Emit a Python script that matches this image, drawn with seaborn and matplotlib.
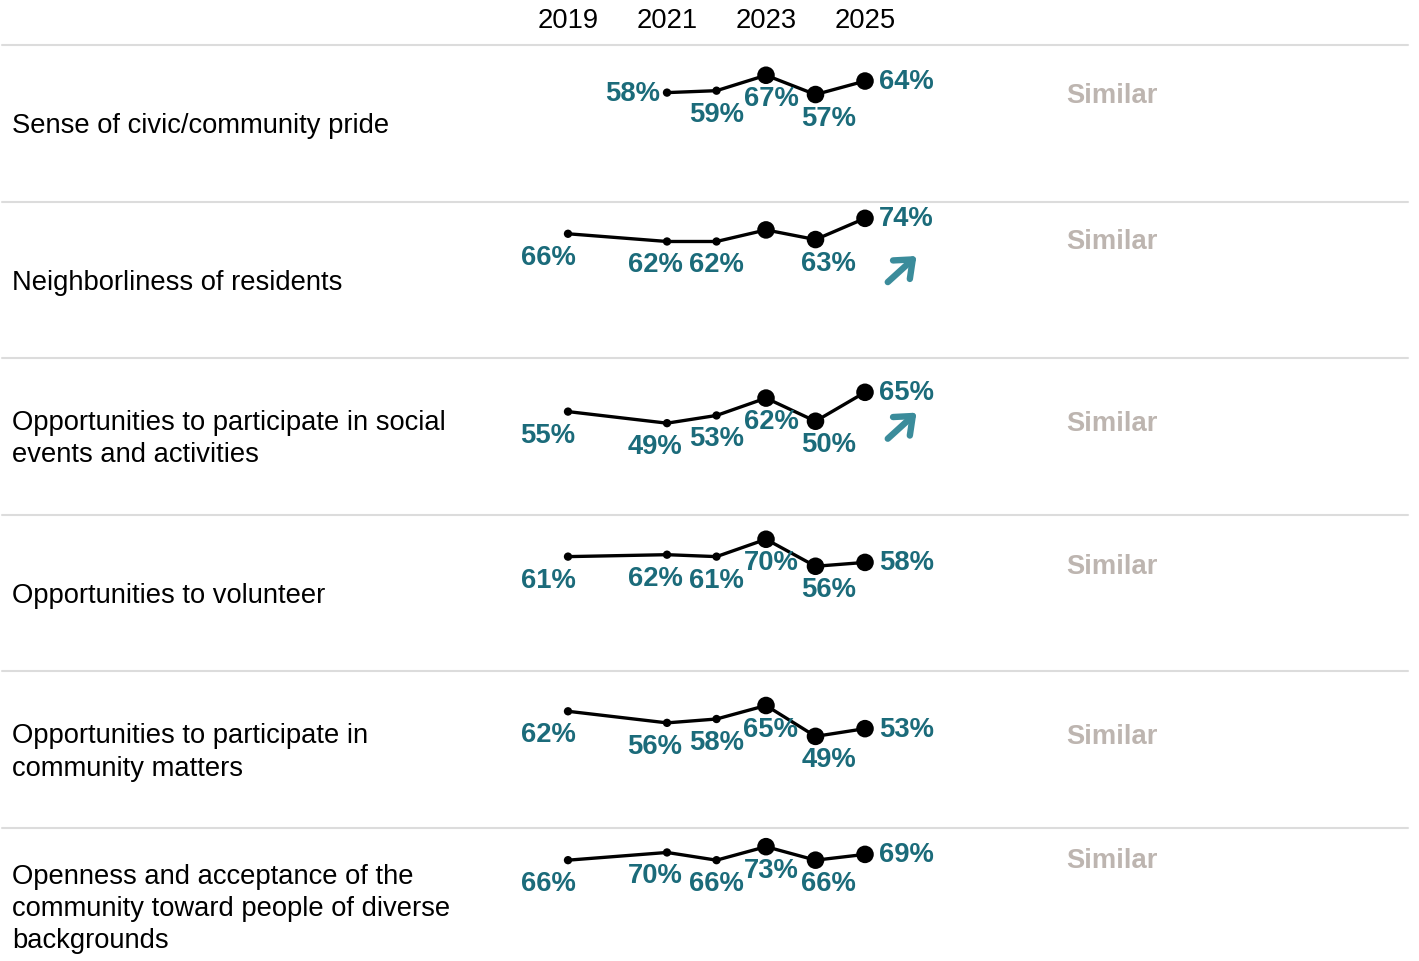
import numpy as np
import pandas as pd
import matplotlib.pyplot as plt
import matplotlib.transforms as mtransforms
from matplotlib.lines import Line2D
import seaborn as sns

# Data
years = [2019, 2021, 2022, 2023, 2024, 2025]
header_years = [2019, 2021, 2023, 2025]

row_labels = [
    "Sense of civic/community pride",
    "Neighborliness of residents",
    "Opportunities to participate in social\nevents and activities",
    "Opportunities to volunteer",
    "Opportunities to participate in\ncommunity matters",
    "Openness and acceptance of the\ncommunity toward people of diverse\nbackgrounds",
]

civic_pride = [np.nan, 58, 59, 67, 57, 64]
neighborliness = [66, 62, 62, 68, 63, 74]
social_events = [55, 49, 53, 62, 50, 65]
volunteer = [61, 62, 61, 70, 56, 58]
community_matters = [62, 56, 58, 65, 49, 53]
openness = [66, 70, 66, 73, 66, 69]

all_values = [civic_pride, neighborliness, social_events, volunteer,
              community_matters, openness]

# labels shown on points (the 2023 point of row 2 carries no label)
show_label = [
    [True] * 6,
    [True, True, True, False, True, True],
    [True] * 6,
    [True] * 6,
    [True] * 6,
    [True] * 6,
]

comparison = ["Similar"] * 6
trend = [None, "up", "up", None, None, None]

# Style
W, H = 1419, 962
TEAL = "#1b6b7a"
ARROW = "#3b8c9b"
GREY_TXT = "#bdb5b0"
SEP = "#dcdcdc"
FS = 19.7

sns.set_theme(style="white")
plt.rcParams["font.family"] = ["Liberation Sans", "DejaVu Sans"]

fig = plt.figure(figsize=(W / 100, H / 100), dpi=100)

px_per_year = 49.5
x_left = 2019 - 568 / px_per_year
x_right = 2025 + (W - 865) / px_per_year
row_h = 156.6
ax_h = 158
y_top = 81.9

# label x nudges (px) by year for middle labels
nudge = {2021: -12, 2022: 0, 2023: 5, 2024: 13}
PT = 0.72  # points per pixel at 100 dpi

for i, vals in enumerate(all_values):
    top = 45 + i * row_h
    ax = fig.add_axes([0, 1 - (top + 2.5 + ax_h) / H, 1, ax_h / H])
    df = pd.DataFrame({"year": years, "value": vals}).dropna()
    df["recent"] = df["year"] >= 2023

    sns.lineplot(data=df, x="year", y="value", ax=ax, color="black",
                 lw=2.4, legend=False)
    sns.scatterplot(data=df, x="year", y="value", size="recent",
                    sizes={False: 36, True: 160}, color="black",
                    edgecolor="none", legend=False, ax=ax, zorder=3)

    ax.set_xlim(x_left, x_right)
    ax.set_ylim(0, y_top)
    for s in ax.spines.values():
        s.set_visible(False)
    ax.set_yticks([])
    ax.set_ylabel("")
    ax.set_xlabel("")

    if i == 0:
        ax.xaxis.tick_top()
        ax.set_xticks(header_years)
        ax.set_xticklabels([str(y) for y in header_years], fontsize=FS)
        ax.tick_params(axis="x", length=0, pad=10, labelcolor="black")
    else:
        ax.set_xticks([])

    # value labels
    rows = list(df.itertuples())
    for j, r in enumerate(rows):
        if not show_label[i][years.index(r.year)]:
            continue
        txt = f"{int(r.value)}%"
        if j == len(rows) - 1:
            off, ha = (14 * PT, 0), "left"
        elif j == 0 and r.year != years[0]:
            off, ha = (-7 * PT, 0), "right"
        elif j == 0:
            off, ha = (-20 * PT, -23 * PT), "center"
        else:
            off, ha = (nudge[r.year] * PT, -23 * PT), "center"
        ax.annotate(txt, (r.year, r.value), xytext=off,
                    textcoords="offset points", ha=ha, va="center",
                    fontsize=FS, fontweight="bold", color=TEAL)

    # comparison text
    trans = mtransforms.blended_transform_factory(ax.transAxes, ax.transData)
    ax.text(1066 / W, np.nanmin(vals), comparison[i], transform=trans,
            ha="left", va="center", fontsize=FS, fontweight="bold",
            color=GREY_TXT)

    # trend arrow
    if trend[i] == "up":
        atrans = mtransforms.blended_transform_factory(ax.transData, ax.transAxes)
        ax.annotate("", xy=(2026.04, 0.665), xytext=(2025.46, 0.5),
                    xycoords=atrans, textcoords=atrans,
                    arrowprops=dict(arrowstyle="->,head_length=0.55,head_width=0.45",
                                    lw=4.6, color=ARROW, mutation_scale=20,
                                    shrinkA=0, shrinkB=0))

    # row label
    fig.text(12 / W, 1 - (top + 81) / H, row_labels[i], ha="left",
             va="center", fontsize=FS, color="black", linespacing=1.32)

    # separator
    ys = 1 - (top + 1) / H
    fig.add_artist(Line2D([2 / W, 1408 / W], [ys, ys], color=SEP, lw=1.5))

fig.savefig("out.png", dpi=100)
